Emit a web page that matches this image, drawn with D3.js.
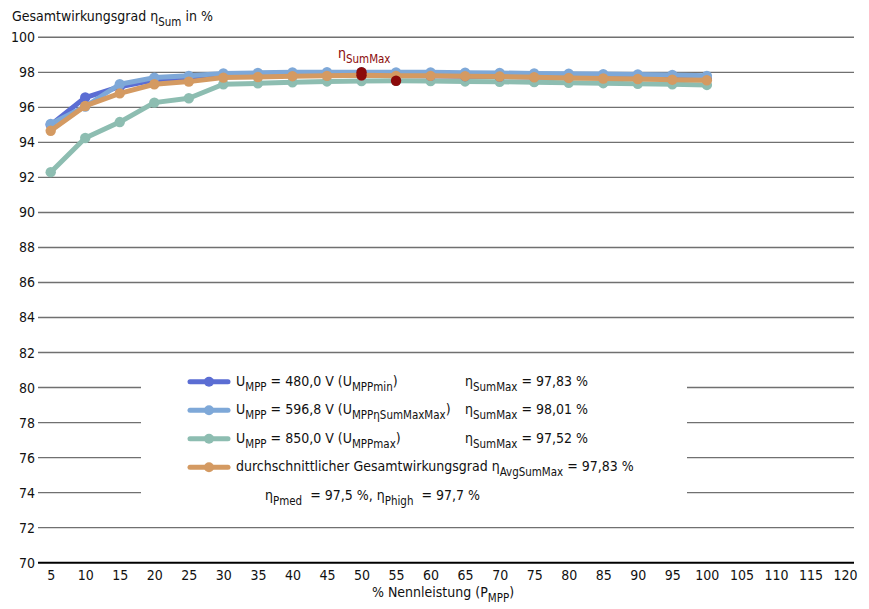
<!DOCTYPE html>
<html><head><meta charset="utf-8">
<script src="https://cdn.jsdelivr.net/npm/d3@7"></script>
<style>
html,body{margin:0;padding:0;background:#fff;}
svg text{font-family:"Liberation Sans Narrow","DejaVu Sans Condensed","Open Sans",sans-serif;fill:#111;white-space:pre;}
</style></head>
<body><svg id="c" width="869" height="609"></svg>
<script>
const xTicks = [5,10,15,20,25,30,35,40,45,50,55,60,65,70,75,80,85,90,95,100,105,110,115,120];
const xData = [5,10,15,20,25,30,35,40,45,50,55,60,65,70,75,80,85,90,95,100];
const yTicks = [70,72,74,76,78,80,82,84,86,88,90,92,94,96,98,100];
const u480 = [95.0,96.56,97.18,97.56,97.7,97.78,97.8,97.82,97.83,97.83,97.82,97.8,97.78,97.76,97.74,97.72,97.7,97.68,97.65,97.62];
const u596 = [95.05,96.05,97.32,97.7,97.8,97.94,97.97,98.0,98.01,98.01,98.0,98.0,97.98,97.96,97.94,97.92,97.9,97.88,97.85,97.8];
const u850 = [92.3,94.25,95.16,96.27,96.52,97.32,97.37,97.43,97.48,97.5,97.52,97.5,97.48,97.46,97.44,97.4,97.38,97.35,97.32,97.28];
const avg  = [94.66,96.08,96.8,97.32,97.47,97.7,97.73,97.78,97.8,97.83,97.8,97.8,97.78,97.76,97.72,97.68,97.65,97.62,97.58,97.55];
const maxX = [50,50,55];
const maxY = [98.01,97.83,97.52];
const seriesNames = ["480","596","850","avg"];
const colors = {"480":"#5b6dd3","596":"#7ea8d8","850":"#8dbdb1","avg":"#d49a62"};

const svg = d3.select("#c");
const x = d3.scalePoint().domain(xTicks).range([50.7,845]);
const y = d3.scaleLinear().domain([70,100]).range([562.7,37.3]);
const L = 38, R = 854;

// gridlines
svg.append("g").selectAll("line").data(yTicks.filter(v=>v!==70)).join("line")
  .attr("x1",L).attr("x2",R).attr("y1",d=>y(d)).attr("y2",d=>y(d))
  .attr("stroke","#707070").attr("stroke-width",1.4);
// y axis labels
const yAxis = d3.axisLeft(y).tickValues(yTicks).tickSize(0).tickPadding(3);
const ya = svg.append("g").attr("transform",`translate(${L},0)`).call(yAxis);
ya.select(".domain").remove();
ya.selectAll("text").attr("font-size",14).attr("fill","#111").style("font-family",null);
// x axis
const xAxis = d3.axisBottom(x).tickSize(0).tickPadding(7);
const xa = svg.append("g").attr("transform",`translate(0,${y(70)})`).call(xAxis);
xa.select(".domain").remove();
xa.selectAll("text").attr("font-size",14).attr("fill","#111").style("font-family",null);
svg.append("line").attr("x1",L).attr("x2",R).attr("y1",y(70)).attr("y2",y(70))
  .attr("stroke","#000").attr("stroke-width",2);

// rich text helper
function rich(g, xx, yy, parts, size, color){
  const t = g.append("text").attr("x",xx).attr("y",yy).attr("font-size",size);
  if(color) t.attr("fill",color).style("fill",color);
  parts.forEach(p=>{
    const s = t.append("tspan").text(p[0]);
    if(p[1]==="sub"){ s.attr("font-size",size*0.82).attr("dy",5); }
    else if(p[1]==="up"){ s.attr("dy",-5); }
    if(color) s.style("fill",color);
  });
  return t;
}

// axis titles
rich(svg, 12, 21, [["Gesamtwirkungsgrad η"],["Sum","sub"],[" in %","up"]], 14);
const xt = rich(svg, 443, 597, [["% Nennleistung (P"],["MPP","sub"],[")","up"]], 14);
xt.attr("text-anchor","middle");

// series
const data = {"480":u480,"596":u596,"850":u850,"avg":avg};
const line = d3.line().x((d,i)=>x(xData[i])).y(d=>y(d));
const order = ["850","480","596","avg"];
order.forEach(k=>{
  const g = svg.append("g");
  g.append("path").datum(data[k]).attr("d",line).attr("fill","none")
    .attr("stroke",colors[k]).attr("stroke-width",5).attr("stroke-linejoin","round");
  g.selectAll("circle").data(data[k]).join("circle")
    .attr("cx",(d,i)=>x(xData[i])).attr("cy",d=>y(d)).attr("r",5.2).attr("fill",colors[k]);
});
// max markers
svg.append("g").selectAll("circle").data(maxY).join("circle")
  .attr("cx",(d,i)=>x(maxX[i])).attr("cy",d=>y(d)).attr("r",5.2).attr("fill","#8b0a0a");
rich(svg, 338, 58, [["η"],["SumMax","sub"]], 14, "#8b0a0a");

// legend
const lg = svg.append("g");
lg.append("rect").attr("x",141).attr("y",364).attr("width",546).attr("height",150).attr("fill","#fff");
const rows = [
  {k:"480", a:[["U"],["MPP","sub"],[" = 480,0 V (U","up"],["MPPmin","sub"],[")","up"]], b:[["η"],["SumMax","sub"],[" = 97,83 %","up"]]},
  {k:"596", a:[["U"],["MPP","sub"],[" = 596,8 V (U","up"],["MPPηSumMaxMax","sub"],[")","up"]], b:[["η"],["SumMax","sub"],[" = 98,01 %","up"]]},
  {k:"850", a:[["U"],["MPP","sub"],[" = 850,0 V (U","up"],["MPPmax","sub"],[")","up"]], b:[["η"],["SumMax","sub"],[" = 97,52 %","up"]]},
  {k:"avg", a:[["durchschnittlicher Gesamtwirkungsgrad η"],["AvgSumMax","sub"],[" = 97,83 %","up"]], b:null}
];
const rowY = [381.7,410.2,438.8,467.3];
rows.forEach((r,i)=>{
  const cy = rowY[i];
  lg.append("line").attr("x1",190).attr("x2",228).attr("y1",cy).attr("y2",cy)
    .attr("stroke",colors[r.k]).attr("stroke-width",5).attr("stroke-linecap","round");
  lg.append("circle").attr("cx",209).attr("cy",cy).attr("r",5).attr("fill",colors[r.k]);
  rich(lg, 236, cy+4, r.a, 14);
  if(r.b) rich(lg, 465, cy+4, r.b, 14);
});
rich(lg, 265, 500, [["η"],["Pmed","sub"],["  = 97,5 %, η","up"],["Phigh","sub"],["  = 97,7 %","up"]], 14);
</script></body></html>
